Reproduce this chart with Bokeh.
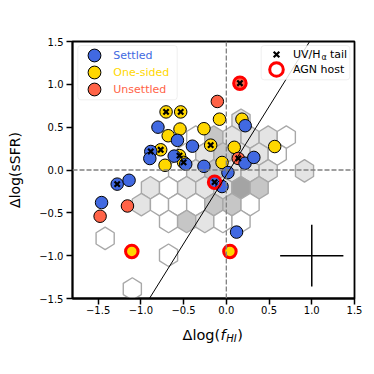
from bokeh.plotting import figure
from bokeh.layouts import column
from bokeh.models import (Range1d, FixedTicker, Span, Slope, BoxAnnotation,
                          Legend, LegendItem, Label, ColumnDataSource)
from bokeh.embed import file_html
from bokeh.resources import INLINE

# ---------------- data ----------------
# Settled galaxies (blue)
settled_x = [-1.46, -1.277, -1.138, -0.884, -0.895, -0.80, -0.572, -0.397, -0.61,
             -0.475, -0.262, 0.019, -0.137, -0.05, 0.12, 0.221, 0.219, 0.322]
settled_y = [-0.38, -0.165, -0.12, 0.216, 0.134, 0.50, 0.346, 0.278, 0.162,
             0.068, 0.043, -0.03, -0.142, -0.193, -0.725, 0.517, 0.079, 0.147]
settled_tail = [0, 1, 0, 1, 0, 0, 0, 0, 0, 0, 0, 0, 1, 0, 0, 0, 0, 0]
settled_agn = [0, 0, 0, 0, 0, 0, 0, 0, 0, 0, 0, 0, 1, 0, 0, 0, 0, 0]

# One-sided galaxies (yellow)
onesided_x = [-0.705, -0.534, -0.08, 0.183, -0.542, -0.262, -0.68, -0.183, -0.768,
              -0.548, -0.50, -0.717, -0.05, 0.093, 0.566, -1.106, 0.042]
onesided_y = [0.678, 0.678, 0.593, 0.593, 0.478, 0.482, 0.40, 0.29, 0.236,
              0.168, 0.089, 0.055, 0.088, 0.265, 0.274, -0.951, -0.951]
onesided_tail = [1, 1, 0, 0, 0, 0, 0, 1, 1, 1, 1, 0, 0, 0, 0, 0, 0]
onesided_agn = [0, 0, 0, 0, 0, 0, 0, 0, 0, 0, 0, 0, 0, 0, 0, 1, 1]

# Unsettled galaxies (red)
unsettled_x = [-1.477, -1.157, -0.105, 0.14, 0.159]
unsettled_y = [-0.54, -0.42, 0.80, 0.135, 1.013]
unsettled_tail = [0, 0, 0, 1, 1]
unsettled_agn = [0, 0, 0, 0, 1]

# Comparison-sample hexbin cells: centres and shade level (0 = lowest count)
hex_x = [0.172,
         -0.358, -0.146, 0.066, 0.278, 0.490, 0.702,
         -0.464, -0.252, -0.040, 0.172, 0.384, 0.596,
         -0.570, -0.358, -0.146, 0.066, 0.278, 0.490, 0.915,
         -0.888, -0.676, -0.464, -0.252, -0.040, 0.172, 0.384,
         -0.994, -0.782, -0.570, -0.358, -0.146, 0.066, 0.278,
         -0.676, -0.464, -0.252, -0.040, 0.172,
         -1.418, -0.676, -1.100]
hex_y = [0.581,
         0.384, 0.384, 0.384, 0.384, 0.384, 0.384,
         0.187, 0.187, 0.187, 0.187, 0.187, 0.187,
         -0.010, -0.010, -0.010, -0.010, -0.010, -0.010, -0.010,
         -0.207, -0.207, -0.207, -0.207, -0.207, -0.207, -0.207,
         -0.404, -0.404, -0.404, -0.404, -0.404, -0.404, -0.404,
         -0.601, -0.601, -0.601, -0.601, -0.601,
         -0.798, -0.995, -1.389]
hex_level = [1,
             0, 2, 1, 1, 1, 0,
             0, 1, 2, 1, 1, 0,
             0, 1, 2, 1, 1, 1, 1,
             1, 0, 1, 1, 1, 3, 2,
             1, 0, 0, 0, 2, 2, 0,
             0, 2, 1, 0, 0,
             0, 0, 0]
hex_sx = 0.212   # hexbin cell width
hex_sy = 0.394   # hexbin lattice height

# fitted relation and typical error
rel_slope = 1.6
rel_intercept = -0.06
err_center = (1.0, -1.0)
err_x = 0.37
err_y = 0.36

tick_values = [-1.5, -1.0, -0.5, 0.0, 0.5, 1.0, 1.5]
tick_labels = ["\u22121.5", "\u22121.0", "\u22120.5", "0.0", "0.5", "1.0", "1.5"]

BLUE = "#4169e1"
GOLD = "#ffd700"
RED = "#ff6347"
FONT = "DejaVu Sans"

# ---------------- main figure ----------------
p = figure(width=366, height=322, x_range=Range1d(-1.8, 1.5), y_range=Range1d(-1.5, 1.5),
           toolbar_location=None, output_backend="svg",
           min_border_left=72, min_border_right=12, min_border_top=41, min_border_bottom=24)
p.xgrid.visible = False
p.ygrid.visible = False
p.outline_line_color = "black"
p.outline_line_width = 1.8
p.background_fill_color = "white"

for ax in (p.xaxis[0], p.yaxis[0]):
    ax.ticker = FixedTicker(ticks=tick_values)
    ax.major_label_overrides = dict(zip(tick_values, tick_labels))
    ax.major_label_text_font = FONT
    ax.major_label_text_font_size = "10px"
    ax.major_label_text_color = "black"
    ax.axis_line_width = 1.8
    ax.major_tick_line_width = 1.5
    ax.major_tick_out = 6
    ax.major_tick_in = 0
    ax.minor_tick_line_color = None
p.xaxis.major_label_standoff = 1
p.yaxis.major_label_standoff = 3
p.yaxis.axis_label = "\u0394log(sSFR)"
p.yaxis.axis_label_text_font = FONT
p.yaxis.axis_label_text_font_size = "14px"
p.yaxis.axis_label_text_font_style = "normal"
p.yaxis.axis_label_text_color = "black"
p.yaxis.axis_label_standoff = 13

# hexbin cells
hx0 = [0.5 * hex_sx, 0.5 * hex_sx, 0.0, -0.5 * hex_sx, -0.5 * hex_sx, 0.0]
hy0 = [-hex_sy / 6, hex_sy / 6, hex_sy / 3, hex_sy / 6, -hex_sy / 6, -hex_sy / 3]
shade = ["#ffffff", "#e4e4e4", "#c6c6c6", "#a4a4a4"]
hex_src = ColumnDataSource(dict(
    xs=[[cx + d for d in hx0] for cx in hex_x],
    ys=[[cy + d for d in hy0] for cy in hex_y],
    fill=[shade[k] for k in hex_level]))
p.patches("xs", "ys", source=hex_src, fill_color="fill", line_color="#a8a8a8", line_width=1.4)

# galaxies
r_one = p.scatter(onesided_x, onesided_y, size=12.5, marker="circle", fill_color=GOLD,
                  line_color="black", line_width=1)
r_uns = p.scatter(unsettled_x, unsettled_y, size=12.5, marker="circle", fill_color=RED,
                  line_color="black", line_width=1)
r_set = p.scatter(settled_x, settled_y, size=12.5, marker="circle", fill_color=BLUE,
                  line_color="black", line_width=1)

all_x = settled_x + onesided_x + unsettled_x
all_y = settled_y + onesided_y + unsettled_y
all_tail = settled_tail + onesided_tail + unsettled_tail
all_agn = settled_agn + onesided_agn + unsettled_agn
tx = [x for x, t in zip(all_x, all_tail) if t]
ty = [y for y, t in zip(all_y, all_tail) if t]
ax_ = [x for x, a in zip(all_x, all_agn) if a]
ay_ = [y for y, a in zip(all_y, all_agn) if a]
r_tail = p.scatter(tx, ty, marker="x", size=7.5, line_color="black", line_width=2.2)
r_agn = p.scatter(ax_, ay_, marker="circle", size=12.5, fill_color=None,
                  line_color="red", line_width=3)

# typical error bar
p.segment([err_center[0] - err_x, err_center[0]], [err_center[1], err_center[1] - err_y],
          [err_center[0] + err_x, err_center[0]], [err_center[1], err_center[1] + err_y],
          line_color="black", line_width=1.5)

# reference lines
p.add_layout(Span(location=0, dimension="height", line_color="#808080", line_width=1.3,
                  line_dash="5 2"))
p.add_layout(Span(location=0, dimension="width", line_color="#808080", line_width=1.3,
                  line_dash="5 2"))
p.add_layout(Slope(gradient=rel_slope, y_intercept=rel_intercept, line_color="black",
                   line_width=1))

# legend frames
for l, r, t, b in [(5.3, 104.7, 253, 198.7), (188.7, 277.3, 253, 218.7)]:
    p.add_layout(BoxAnnotation(left=l, right=r, top=t, bottom=b,
                               left_units="screen", right_units="screen",
                               top_units="screen", bottom_units="screen",
                               fill_color="white", fill_alpha=0.85,
                               line_color="#cccccc", line_width=1, border_radius=3))

def add_entry(label, rend, color, loc, box, standoff):
    lg = Legend(items=[LegendItem(label=label, renderers=[rend])], location=loc,
                padding=0, margin=0, spacing=0, glyph_width=box, glyph_height=box,
                label_height=box, label_standoff=standoff,
                label_text_font=FONT, label_text_font_size="11px",
                label_text_color=color, border_line_alpha=0, background_fill_alpha=0)
    p.add_layout(lg, "center")

add_entry("Settled", r_set, BLUE, (6.3, 227), 32, 3)
add_entry("One-sided", r_one, GOLD, (6.3, 209.7), 32, 3)
add_entry("Unsettled", r_uns, RED, (6.3, 193), 32, 3)
add_entry("UV/H", r_tail, "black", (194, 234), 20, 7)
add_entry("AGN host", r_agn, "black", (187, 211.7), 34, 0)

def lab(fig, text, x, y, size, style="normal", baseline="alphabetic"):
    fig.add_layout(Label(x=x, y=y, x_units="screen", y_units="screen", text=text,
                         text_font=FONT, text_font_size=size, text_font_style=style,
                         text_color="black", text_baseline=baseline))

lab(p, "\u03b1", 249, 241, "8px", baseline="middle")
lab(p, "tail", 257.5, 244, "11px", baseline="middle")

# ---------------- x-axis label strip: Δlog(f_HI) ----------------
# (its frame is aligned with the main frame by the column layout)
q = figure(width=366, height=44, x_range=Range1d(0, 1), y_range=Range1d(0, 1),
           toolbar_location=None, output_backend="svg", x_axis_type=None, y_axis_type=None,
           min_border=0)
q.grid.visible = False
q.outline_line_color = None
lab(q, "\u0394log(", 110, 32, "14.5px")
lab(q, "f", 147.9, 32, "14.5px", "italic")
lab(q, "HI", 153.8, 28.5, "10px", "italic")
lab(q, ")", 164.8, 32, "14.5px")

open("out.html", "w").write(file_html(column(p, q, spacing=0), INLINE))
